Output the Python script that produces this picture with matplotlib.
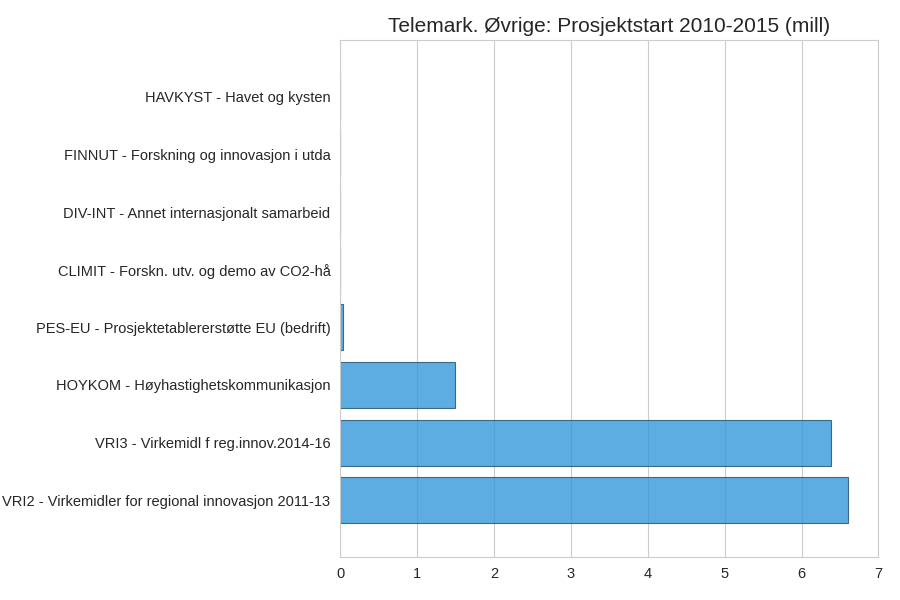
import matplotlib
matplotlib.use("Agg")
from matplotlib import pyplot as plt
import seaborn as sns

kategorier = [
    "VRI2 - Virkemidler for regional innovasjon 2011-13",
    "VRI3 - Virkemidl f reg.innov.2014-16",
    "HOYKOM - Høyhastighetskommunikasjon",
    "PES-EU - Prosjektetablererstøtte EU (bedrift)",
    "CLIMIT - Forskn. utv. og demo av CO2-hå",
    "DIV-INT - Annet internasjonalt samarbeid",
    "FINNUT - Forskning og innovasjon i utda",
    "HAVKYST - Havet og kysten",
]
verdier = [6.6, 6.38, 1.49, 0.04, 0, 0, 0, 0]

sns.set_style("whitegrid")
plt.rcParams['font.family'] = ['Liberation Sans', 'DejaVu Sans']

fig = plt.figure(figsize=(9, 6), dpi=100)
ax = fig.add_axes([0.378, 0.072, 0.598, 0.861])
pos = list(range(len(kategorier)))
ax.barh(pos, verdier, height=0.8, color="#3498db", alpha=0.8, edgecolor="#1f4e6e", linewidth=0.8)
ax.set_yticks(pos)
ax.set_yticklabels(kategorier, fontsize=10.5, color="#262626")
ax.set_xlim(0, 7)
ax.set_ylim(-0.98, 7.98)
ax.yaxis.grid(False)
ax.xaxis.grid(True, color="#cccccc")
ax.tick_params(axis="x", labelsize=10.5, colors="#262626")
for s in ax.spines.values():
    s.set_color("#cccccc")
ax.set_title("Telemark. Øvrige: Prosjektstart 2010-2015 (mill)", fontsize=15, color="#262626")
fig.savefig("out.png", dpi=100)
